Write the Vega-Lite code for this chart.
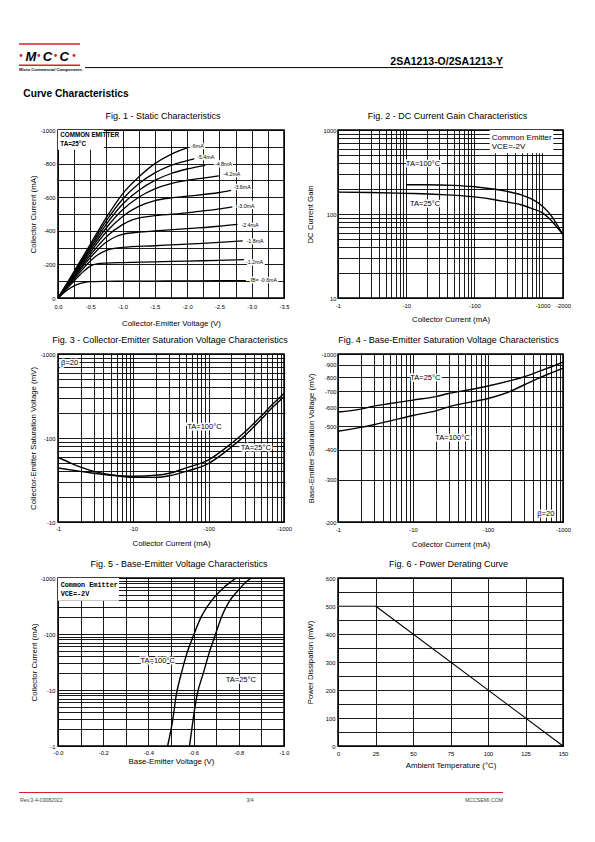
{
  "$schema": "https://vega.github.io/schema/vega-lite/v6.json",
  "background": "white",
  "padding": 0,
  "bounds": "flush",
  "columns": 2,
  "spacing": {"row": 56, "column": 54},
  "config": {
    "font": "Liberation Sans",
    "view": {"stroke": "black", "strokeWidth": 1.5},
    "axis": {"grid": true, "gridColor": "black", "gridOpacity": 1, "gridWidth": 0.9, "domain": false, "ticks": false, "labelFont": "Liberation Sans", "labelFontSize": 5.8, "labelColor": "black", "labelFlush": false, "labelOverlap": false, "labelPadding": 3, "titleFont": "Liberation Sans", "titleFontSize": 7.8, "titleFontWeight": "normal", "titleColor": "black"},
    "title": {"font": "Liberation Sans", "fontSize": 9, "fontWeight": "normal", "color": "black", "offset": 6, "anchor": "middle"},
    "line": {"color": "black", "strokeWidth": 1.3},
    "text": {"font": "Liberation Sans", "color": "black"}
  },
  "datasets": {
    "page": [{"page": 3}],
    "f1": [
      {"s":"0.6","x":0,"y":0},{"s":"0.6","x":0.1,"y":35},{"s":"0.6","x":0.2,"y":62},{"s":"0.6","x":0.3,"y":81},{"s":"0.6","x":0.4,"y":92},{"s":"0.6","x":0.5,"y":97},{"s":"0.6","x":0.75,"y":99},{"s":"0.6","x":1.0,"y":100},{"s":"0.6","x":1.5,"y":101},{"s":"0.6","x":2.0,"y":102},{"s":"0.6","x":2.5,"y":103},{"s":"0.6","x":2.91,"y":104},
      {"s":"1.2","x":0,"y":0},{"s":"1.2","x":0.1,"y":42},{"s":"1.2","x":0.2,"y":82},{"s":"1.2","x":0.3,"y":122},{"s":"1.2","x":0.4,"y":160},{"s":"1.2","x":0.5,"y":190},{"s":"1.2","x":0.6,"y":203},{"s":"1.2","x":0.75,"y":208},{"s":"1.2","x":1.0,"y":211},{"s":"1.2","x":1.5,"y":215},{"s":"1.2","x":2.0,"y":220},{"s":"1.2","x":2.5,"y":224},{"s":"1.2","x":2.88,"y":228},
      {"s":"1.8","x":0,"y":0},{"s":"1.8","x":0.25,"y":112},{"s":"1.8","x":0.5,"y":220},{"s":"1.8","x":0.6,"y":253},{"s":"1.8","x":0.75,"y":284},{"s":"1.8","x":0.9,"y":297},{"s":"1.8","x":1.0,"y":301},{"s":"1.8","x":1.5,"y":311},{"s":"1.8","x":2.0,"y":321},{"s":"1.8","x":2.5,"y":331},{"s":"1.8","x":2.86,"y":340},
      {"s":"2.4","x":0,"y":0},{"s":"2.4","x":0.25,"y":122},{"s":"2.4","x":0.5,"y":240},{"s":"2.4","x":0.75,"y":333},{"s":"2.4","x":0.9,"y":366},{"s":"2.4","x":1.0,"y":379},{"s":"2.4","x":1.25,"y":392},{"s":"2.4","x":1.5,"y":399},{"s":"2.4","x":2.0,"y":413},{"s":"2.4","x":2.5,"y":427},{"s":"2.4","x":2.78,"y":438},
      {"s":"3.0","x":0,"y":0},{"s":"3.0","x":0.25,"y":130},{"s":"3.0","x":0.5,"y":256},{"s":"3.0","x":0.75,"y":365},{"s":"3.0","x":1.0,"y":437},{"s":"3.0","x":1.15,"y":465},{"s":"3.0","x":1.3,"y":480},{"s":"3.0","x":1.5,"y":490},{"s":"3.0","x":2.0,"y":507},{"s":"3.0","x":2.5,"y":530},{"s":"3.0","x":2.7,"y":542},
      {"s":"3.6","x":0,"y":0},{"s":"3.6","x":0.25,"y":137},{"s":"3.6","x":0.5,"y":272},{"s":"3.6","x":0.75,"y":394},{"s":"3.6","x":1.0,"y":485},{"s":"3.6","x":1.25,"y":545},{"s":"3.6","x":1.5,"y":580},{"s":"3.6","x":1.75,"y":596},{"s":"3.6","x":2.0,"y":606},{"s":"3.6","x":2.5,"y":628},{"s":"3.6","x":2.68,"y":640},
      {"s":"4.2","x":0,"y":0},{"s":"4.2","x":0.25,"y":143},{"s":"4.2","x":0.5,"y":285},{"s":"4.2","x":0.75,"y":418},{"s":"4.2","x":1.0,"y":525},{"s":"4.2","x":1.25,"y":600},{"s":"4.2","x":1.5,"y":650},{"s":"4.2","x":1.75,"y":681},{"s":"4.2","x":2.0,"y":700},{"s":"4.2","x":2.25,"y":714},{"s":"4.2","x":2.49,"y":727},
      {"s":"4.8","x":0,"y":0},{"s":"4.8","x":0.25,"y":148},{"s":"4.8","x":0.5,"y":297},{"s":"4.8","x":0.75,"y":440},{"s":"4.8","x":1.0,"y":558},{"s":"4.8","x":1.25,"y":640},{"s":"4.8","x":1.5,"y":700},{"s":"4.8","x":1.75,"y":741},{"s":"4.8","x":2.0,"y":768},{"s":"4.8","x":2.28,"y":790},
      {"s":"5.4","x":0,"y":0},{"s":"5.4","x":0.25,"y":153},{"s":"5.4","x":0.5,"y":308},{"s":"5.4","x":0.75,"y":460},{"s":"5.4","x":1.0,"y":588},{"s":"5.4","x":1.25,"y":680},{"s":"5.4","x":1.5,"y":745},{"s":"5.4","x":1.75,"y":790},{"s":"5.4","x":2.0,"y":818},{"s":"5.4","x":2.11,"y":829},
      {"s":"6","x":0,"y":0},{"s":"6","x":0.25,"y":158},{"s":"6","x":0.5,"y":320},{"s":"6","x":0.75,"y":480},{"s":"6","x":1.0,"y":620},{"s":"6","x":1.25,"y":720},{"s":"6","x":1.5,"y":800},{"s":"6","x":1.75,"y":855},{"s":"6","x":2.0,"y":893}
    ],
    "f1t": [
      {"x":2.06,"y":906,"t":"-6mA"},{"x":2.155,"y":841,"t":"-5.4mA"},{"x":2.43,"y":795,"t":"-4.8mA"},{"x":2.56,"y":741,"t":"-4.2mA"},{"x":2.72,"y":661,"t":"-3.6mA"},{"x":2.78,"y":546,"t":"-3.0mA"},{"x":2.84,"y":436,"t":"-2.4mA"},{"x":2.92,"y":337,"t":"-1.8mA"},{"x":2.91,"y":217,"t":"-1.2mA"},{"x":2.98,"y":110,"t":"IB= -0.6mA"}
    ],
    "f1a": [{"x":0.035,"y":972,"t":"COMMON EMITTER"},{"x":0.035,"y":915,"t":"TA=25°C"}],
    "f1b": [{"x":0,"x2":0.71,"y":882,"y2":1000}],
    "f2": [
      {"s":"100","x":10,"y":223},{"s":"100","x":20,"y":223},{"s":"100","x":50,"y":219},{"s":"100","x":100,"y":211},{"s":"100","x":200,"y":197},{"s":"100","x":300,"y":186},{"s":"100","x":500,"y":168},{"s":"100","x":700,"y":150},{"s":"100","x":1000,"y":124},{"s":"100","x":1300,"y":99},{"s":"100","x":1600,"y":77},{"s":"100","x":2000,"y":57},
      {"s":"25","x":1,"y":182},{"s":"25","x":3,"y":180},{"s":"25","x":10,"y":176},{"s":"25","x":30,"y":171},{"s":"25","x":100,"y":160},{"s":"25","x":200,"y":148},{"s":"25","x":300,"y":139},{"s":"25","x":500,"y":128},{"s":"25","x":700,"y":116},{"s":"25","x":1000,"y":103},{"s":"25","x":1300,"y":86},{"s":"25","x":1600,"y":71},{"s":"25","x":2000,"y":57}
    ],
    "f2a": [{"x":9.9,"y":397,"t":"TA=100°C"},{"x":11.4,"y":132,"t":"TA=25°C"}],
    "f2c": [{"x":180,"y":811,"t":"Common Emitter"},{"x":180,"y":627,"t":"VCE=-2V"}],
    "f2b": [{"x":168,"x2":1440,"y":527,"y2":1000}],
    "f3": [
      {"s":"100","x":1,"y":44},{"s":"100","x":2,"y":40},{"s":"100","x":3,"y":38},{"s":"100","x":5,"y":36},{"s":"100","x":10,"y":35},{"s":"100","x":20,"y":36},{"s":"100","x":30,"y":38},{"s":"100","x":50,"y":44},{"s":"100","x":100,"y":55},{"s":"100","x":200,"y":86},{"s":"100","x":300,"y":117},{"s":"100","x":500,"y":183},{"s":"100","x":700,"y":250},{"s":"100","x":1000,"y":339},
      {"s":"25","x":1,"y":59},{"s":"25","x":1.5,"y":50},{"s":"25","x":2,"y":45},{"s":"25","x":3,"y":40},{"s":"25","x":5,"y":36.5},{"s":"25","x":10,"y":34},{"s":"25","x":20,"y":34},{"s":"25","x":30,"y":35.5},{"s":"25","x":50,"y":40},{"s":"25","x":100,"y":50},{"s":"25","x":200,"y":78},{"s":"25","x":300,"y":106},{"s":"25","x":500,"y":168},{"s":"25","x":700,"y":230},{"s":"25","x":1000,"y":310}
    ],
    "f3a": [{"x":1.1,"y":776,"t":"β=20"},{"x":52,"y":134,"t":"TA=100°C"},{"x":266,"y":75,"t":"TA=25°C"}],
    "f4": [
      {"s":"25","x":1,"y":574},{"s":"25","x":2,"y":590},{"s":"25","x":3,"y":607},{"s":"25","x":5,"y":622},{"s":"25","x":10,"y":643},{"s":"25","x":20,"y":665},{"s":"25","x":30,"y":685},{"s":"25","x":50,"y":705},{"s":"25","x":100,"y":736},{"s":"25","x":200,"y":775},{"s":"25","x":300,"y":802},{"s":"25","x":500,"y":850},{"s":"25","x":700,"y":885},{"s":"25","x":1000,"y":925},
      {"s":"100","x":1,"y":477},{"s":"100","x":2,"y":495},{"s":"100","x":3,"y":508},{"s":"100","x":5,"y":527},{"s":"100","x":10,"y":555},{"s":"100","x":20,"y":580},{"s":"100","x":30,"y":603},{"s":"100","x":50,"y":625},{"s":"100","x":100,"y":653},{"s":"100","x":200,"y":700},{"s":"100","x":300,"y":743},{"s":"100","x":500,"y":800},{"s":"100","x":700,"y":835},{"s":"100","x":1000,"y":873}
    ],
    "f4a": [{"x":9.2,"y":798,"t":"TA=25°C"},{"x":19.8,"y":448,"t":"TA=100°C"},{"x":454,"y":215,"t":"β=20"}],
    "f5": [
      {"s":"100","x":0.485,"y":1},{"s":"100","x":0.508,"y":3},{"s":"100","x":0.523,"y":8},{"s":"100","x":0.546,"y":20},{"s":"100","x":0.571,"y":46},{"s":"100","x":0.598,"y":91},{"s":"100","x":0.633,"y":200},{"s":"100","x":0.672,"y":360},{"s":"100","x":0.72,"y":600},{"s":"100","x":0.772,"y":900},{"s":"100","x":0.79,"y":1000},
      {"s":"25","x":0.582,"y":1},{"s":"25","x":0.598,"y":3},{"s":"25","x":0.615,"y":8},{"s":"25","x":0.643,"y":20},{"s":"25","x":0.669,"y":46},{"s":"25","x":0.694,"y":91},{"s":"25","x":0.723,"y":200},{"s":"25","x":0.754,"y":360},{"s":"25","x":0.797,"y":600},{"s":"25","x":0.84,"y":900},{"s":"25","x":0.855,"y":1000}
    ],
    "f5a": [{"x":0.365,"y":33.6,"t":"TA=100°C"},{"x":0.742,"y":14.8,"t":"TA=25°C"}],
    "f5c": [{"x":0.012,"y":738,"t":"Common Emitter"},{"x":0.012,"y":525,"t":"VCE=-2V"}],
    "f5b": [{"x":0,"x2":0.27,"y":394,"y2":1000}],
    "f6": [{"s":"a","x":0,"y":500},{"s":"a","x":25,"y":500},{"s":"b","x":25,"y":500},{"s":"b","x":150,"y":0}]
  },
  "concat": [
    {
      "width": 226,
      "height": 54,
      "view": {"stroke": null},
      "data": {"name": "page"},
      "layer": [
        {"mark": {"type": "rect", "opacity": 0}, "encoding": {"x": {"datum": 0, "type": "quantitative", "scale": {"domain": [58, 284], "nice": false, "zero": false}, "axis": null}, "x2": {"datum": 595}, "y": {"datum": 0, "type": "quantitative", "scale": {"domain": [20, 74], "nice": false, "zero": false, "reverse": true}, "axis": null}, "y2": {"datum": 842}}},
        {"mark": {"type": "rule", "color": "#d7202a", "strokeWidth": 1.6}, "encoding": {"x": {"datum": 19, "type": "quantitative", "axis": null}, "x2": {"datum": 80}, "y": {"datum": 44, "type": "quantitative", "axis": null}}},
        {"mark": {"type": "rule", "color": "#d7202a", "strokeWidth": 1.6}, "encoding": {"x": {"datum": 19, "type": "quantitative", "axis": null}, "x2": {"datum": 80}, "y": {"datum": 65.3, "type": "quantitative", "axis": null}}},
        {"mark": {"type": "text", "font": "Liberation Sans", "fontWeight": "bold", "fontStyle": "italic", "fontSize": 13, "align": "center", "baseline": "alphabetic"}, "encoding": {"x": {"datum": 31, "type": "quantitative", "axis": null}, "y": {"datum": 60.5, "type": "quantitative", "axis": null}, "text": {"value": "M"}}},
        {"mark": {"type": "text", "font": "Liberation Sans", "fontWeight": "bold", "fontStyle": "italic", "fontSize": 13, "align": "center", "baseline": "alphabetic"}, "encoding": {"x": {"datum": 47.5, "type": "quantitative", "axis": null}, "y": {"datum": 60.5, "type": "quantitative", "axis": null}, "text": {"value": "C"}}},
        {"mark": {"type": "text", "font": "Liberation Sans", "fontWeight": "bold", "fontStyle": "italic", "fontSize": 13, "align": "center", "baseline": "alphabetic"}, "encoding": {"x": {"datum": 64.2, "type": "quantitative", "axis": null}, "y": {"datum": 60.5, "type": "quantitative", "axis": null}, "text": {"value": "C"}}},
        {"mark": {"type": "point", "filled": true, "color": "#d7202a", "size": 8, "opacity": 1}, "encoding": {"x": {"datum": 21, "type": "quantitative", "axis": null}, "y": {"datum": 55.5, "type": "quantitative", "axis": null}}},
        {"mark": {"type": "point", "filled": true, "color": "#d7202a", "size": 8, "opacity": 1}, "encoding": {"x": {"datum": 38.8, "type": "quantitative", "axis": null}, "y": {"datum": 55.5, "type": "quantitative", "axis": null}}},
        {"mark": {"type": "point", "filled": true, "color": "#d7202a", "size": 8, "opacity": 1}, "encoding": {"x": {"datum": 55.5, "type": "quantitative", "axis": null}, "y": {"datum": 55.5, "type": "quantitative", "axis": null}}},
        {"mark": {"type": "point", "filled": true, "color": "#d7202a", "size": 8, "opacity": 1}, "encoding": {"x": {"datum": 74, "type": "quantitative", "axis": null}, "y": {"datum": 55.5, "type": "quantitative", "axis": null}}},
        {"mark": {"type": "text", "font": "Liberation Sans", "fontWeight": "bold", "fontSize": 4.2, "align": "left", "baseline": "alphabetic"}, "encoding": {"x": {"datum": 19, "type": "quantitative", "axis": null}, "y": {"datum": 71.3, "type": "quantitative", "axis": null}, "text": {"value": "Micro Commercial Components"}}},
        {"mark": {"type": "rule", "color": "black", "strokeWidth": 1}, "encoding": {"x": {"datum": 85, "type": "quantitative", "axis": null}, "x2": {"datum": 503}, "y": {"datum": 67.6, "type": "quantitative", "axis": null}}},
        {"mark": {"type": "text", "font": "Liberation Sans", "fontWeight": "bold", "fontSize": 10.5, "align": "right", "baseline": "alphabetic"}, "encoding": {"x": {"datum": 503, "type": "quantitative", "axis": null}, "y": {"datum": 65, "type": "quantitative", "axis": null}, "text": {"value": "2SA1213-O/2SA1213-Y"}}},
        {"mark": {"type": "text", "font": "Liberation Sans", "fontWeight": "bold", "fontSize": 10.2, "align": "left", "baseline": "alphabetic"}, "encoding": {"x": {"datum": 23.3, "type": "quantitative", "axis": null}, "y": {"datum": 97, "type": "quantitative", "axis": null}, "text": {"value": "Curve Characteristics"}}},
        {"mark": {"type": "rule", "color": "#d7202a", "strokeWidth": 1}, "encoding": {"x": {"datum": 19, "type": "quantitative", "axis": null}, "x2": {"datum": 503}, "y": {"datum": 792.5, "type": "quantitative", "axis": null}}},
        {"mark": {"type": "text", "font": "Liberation Sans", "fontSize": 5.2, "color": "#444", "align": "left", "baseline": "alphabetic"}, "encoding": {"x": {"datum": 20, "type": "quantitative", "axis": null}, "y": {"datum": 802, "type": "quantitative", "axis": null}, "text": {"value": "Rev.3-4-03082022"}}},
        {"mark": {"type": "text", "font": "Liberation Sans", "fontSize": 5.2, "color": "#444", "align": "center", "baseline": "alphabetic"}, "encoding": {"x": {"datum": 250, "type": "quantitative", "axis": null}, "y": {"datum": 802, "type": "quantitative", "axis": null}, "text": {"value": "3/4"}}},
        {"mark": {"type": "text", "font": "Liberation Sans", "fontSize": 5.2, "color": "#444", "align": "right", "baseline": "alphabetic"}, "encoding": {"x": {"datum": 503, "type": "quantitative", "axis": null}, "y": {"datum": 802, "type": "quantitative", "axis": null}, "text": {"value": "MCCSEMI.COM"}}}
      ]
    },
    {
      "width": 225,
      "height": 54,
      "view": {"stroke": null},
      "data": {"name": "page"},
      "mark": {"type": "rule", "opacity": 0},
      "encoding": {"y": {"datum": 0, "type": "quantitative", "axis": null}}
    },
    {
      "width": 226, "height": 168,
      "title": {"text": "Fig. 1 - Static Characteristics", "dx": -8},
      "encoding": {
        "x": {"field": "x", "type": "quantitative", "scale": {"domain": [0, 3.5], "nice": false, "zero": false}, "axis": {"title": "Collector-Emitter Voltage (V)", "values": [0,0.25,0.5,0.75,1,1.25,1.5,1.75,2,2.25,2.5,2.75,3,3.25,3.5], "labelExpr": "(datum.value*2)%1==0 ? (datum.value==0 ? '0.0' : '-'+format(datum.value,'.1f')) : ''", "labelPadding": 5, "titlePadding": 11}},
        "y": {"field": "y", "type": "quantitative", "scale": {"domain": [0, 1000], "nice": false, "zero": false}, "axis": {"title": "Collector Current (mA)", "values": [0,100,200,300,400,500,600,700,800,900,1000], "labelExpr": "datum.value%200==0 ? (datum.value==0 ? '0' : '-'+datum.value) : ''", "titlePadding": 3}}
      },
      "layer": [
        {"data": {"name": "f1"}, "mark": {"type": "line", "interpolate": "monotone", "strokeWidth": 1.3}, "encoding": {"detail": {"field": "s"}}},
        {"data": {"name": "f1b"}, "mark": {"type": "rect", "color": "white"}, "encoding": {"x2": {"field": "x2"}, "y2": {"field": "y2"}}},
        {"data": {"name": "f1a"}, "mark": {"type": "text", "fontSize": 6.3, "fontWeight": "bold", "align": "left", "baseline": "middle"}, "encoding": {"text": {"field": "t"}}},
        {"data": {"name": "f1t"}, "mark": {"type": "text", "fontSize": 5.3, "align": "left", "baseline": "middle", "stroke": "white", "strokeWidth": 2.5}, "encoding": {"text": {"field": "t"}}},
        {"data": {"name": "f1t"}, "mark": {"type": "text", "fontSize": 5.3, "align": "left", "baseline": "middle"}, "encoding": {"text": {"field": "t"}}}
      ]
    },
    {
      "width": 225, "height": 168,
      "title": {"text": "Fig. 2 - DC Current Gain Characteristics", "dx": -3},
      "encoding": {
        "x": {"field": "x", "type": "quantitative", "scale": {"type": "log", "domain": [1, 2000], "nice": false, "zero": false}, "axis": {"title": "Collector Current (mA)", "values": [1,2,3,4,5,6,7,8,9,10,20,30,40,50,60,70,80,90,100,200,300,400,500,600,700,800,900,1000,2000], "labelExpr": "indexof([1,10,100,1000,2000], datum.value)>=0 ? '-'+datum.value : ''", "labelPadding": 4, "titlePadding": 8}},
        "y": {"field": "y", "type": "quantitative", "scale": {"type": "log", "domain": [10, 1000], "nice": false, "zero": false}, "axis": {"title": "DC Current Gain", "values": [10,20,30,40,50,60,70,80,90,100,200,300,400,500,600,700,800,900,1000], "labelExpr": "indexof([10,100,1000], datum.value)>=0 ? ''+datum.value : ''", "labelPadding": 2, "titlePadding": 9}}
      },
      "layer": [
        {"data": {"name": "f2"}, "mark": {"type": "line", "interpolate": "monotone", "strokeWidth": 1.4}, "encoding": {"detail": {"field": "s"}}},
        {"data": {"name": "f2b"}, "mark": {"type": "rect", "color": "white"}, "encoding": {"x2": {"field": "x2"}, "y2": {"field": "y2"}}},
        {"data": {"name": "f2c"}, "mark": {"type": "text", "fontSize": 8, "align": "left", "baseline": "middle"}, "encoding": {"text": {"field": "t"}}},
        {"data": {"name": "f2a"}, "mark": {"type": "text", "fontSize": 7.5, "align": "left", "baseline": "middle", "stroke": "white", "strokeWidth": 3}, "encoding": {"text": {"field": "t"}}},
        {"data": {"name": "f2a"}, "mark": {"type": "text", "fontSize": 7.5, "align": "left", "baseline": "middle"}, "encoding": {"text": {"field": "t"}}}
      ]
    },
    {
      "width": 226, "height": 168,
      "title": {"text": "Fig. 3 - Collector-Emitter Saturation Voltage Characteristics", "dx": -1},
      "encoding": {
        "x": {"field": "x", "type": "quantitative", "scale": {"type": "log", "domain": [1, 1000], "nice": false, "zero": false}, "axis": {"title": "Collector Current (mA)", "values": [1,2,3,4,5,6,7,8,9,10,20,30,40,50,60,70,80,90,100,200,300,400,500,600,700,800,900,1000], "labelExpr": "indexof([1,10,100,1000], datum.value)>=0 ? '-'+datum.value : ''", "labelPadding": 3, "titlePadding": 9}},
        "y": {"field": "y", "type": "quantitative", "scale": {"type": "log", "domain": [10, 1000], "nice": false, "zero": false}, "axis": {"title": "Collector-Emitter Saturation Voltage (mV)", "values": [10,20,30,40,50,60,70,80,90,100,200,300,400,500,600,700,800,900,1000], "labelExpr": "indexof([10,100,1000], datum.value)>=0 ? '-'+datum.value : ''", "labelPadding": 3, "titlePadding": 3}}
      },
      "layer": [
        {"data": {"name": "f3"}, "mark": {"type": "line", "interpolate": "monotone", "strokeWidth": 1.4}, "encoding": {"detail": {"field": "s"}}},
        {"data": {"name": "f3a"}, "mark": {"type": "text", "fontSize": 7.5, "align": "left", "baseline": "middle", "stroke": "white", "strokeWidth": 3}, "encoding": {"text": {"field": "t"}}},
        {"data": {"name": "f3a"}, "mark": {"type": "text", "fontSize": 7.5, "align": "left", "baseline": "middle"}, "encoding": {"text": {"field": "t"}}}
      ]
    },
    {
      "width": 225, "height": 168,
      "title": {"text": "Fig. 4 - Base-Emitter Saturation Voltage Characteristics", "dx": -2},
      "encoding": {
        "x": {"field": "x", "type": "quantitative", "scale": {"type": "log", "domain": [1, 1000], "nice": false, "zero": false}, "axis": {"title": "Collector Current (mA)", "values": [1,2,3,4,5,6,7,8,9,10,20,30,40,50,60,70,80,90,100,200,300,400,500,600,700,800,900,1000], "labelExpr": "indexof([1,10,100,1000], datum.value)>=0 ? '-'+datum.value : ''", "labelPadding": 4, "titlePadding": 9}},
        "y": {"field": "y", "type": "quantitative", "scale": {"type": "log", "domain": [200, 1000], "nice": false, "zero": false}, "axis": {"title": "Base-Emitter Saturation Voltage (mV)", "values": [200,300,400,500,600,700,800,900,1000], "labelExpr": "'-'+datum.value", "labelPadding": 2, "titlePadding": 6}}
      },
      "layer": [
        {"data": {"name": "f4"}, "mark": {"type": "line", "interpolate": "monotone", "strokeWidth": 1.4}, "encoding": {"detail": {"field": "s"}}},
        {"data": {"name": "f4a"}, "mark": {"type": "text", "fontSize": 7.5, "align": "left", "baseline": "middle", "stroke": "white", "strokeWidth": 3}, "encoding": {"text": {"field": "t"}}},
        {"data": {"name": "f4a"}, "mark": {"type": "text", "fontSize": 7.5, "align": "left", "baseline": "middle"}, "encoding": {"text": {"field": "t"}}}
      ]
    },
    {
      "width": 226, "height": 168,
      "title": {"text": "Fig. 5 - Base-Emitter Voltage Characteristics", "dx": 8},
      "encoding": {
        "x": {"field": "x", "type": "quantitative", "scale": {"domain": [0, 1], "nice": false, "zero": false}, "axis": {"title": "Base-Emitter Voltage (V)", "values": [0,0.1,0.2,0.3,0.4,0.5,0.6,0.7,0.8,0.9,1], "labelExpr": "round(datum.value*10)%2==0 ? '-'+format(datum.value,'.1f') : ''", "labelPadding": 3, "titlePadding": 3}},
        "y": {"field": "y", "type": "quantitative", "scale": {"type": "log", "domain": [1, 1000], "nice": false, "zero": false}, "axis": {"title": "Collector Current (mA)", "values": [1,2,3,4,5,6,7,8,9,10,20,30,40,50,60,70,80,90,100,200,300,400,500,600,700,800,900,1000], "labelExpr": "indexof([1,10,100,1000], datum.value)>=0 ? '-'+datum.value : ''", "labelPadding": 3, "titlePadding": 2}}
      },
      "layer": [
        {"data": {"name": "f5"}, "mark": {"type": "line", "interpolate": "monotone", "strokeWidth": 1.4}, "encoding": {"detail": {"field": "s"}, "order": {"field": "y"}}},
        {"data": {"name": "f5b"}, "mark": {"type": "rect", "color": "white"}, "encoding": {"x2": {"field": "x2"}, "y2": {"field": "y2"}}},
        {"data": {"name": "f5c"}, "mark": {"type": "text", "font": "Liberation Mono", "fontWeight": "bold", "fontSize": 6.8, "align": "left", "baseline": "middle"}, "encoding": {"text": {"field": "t"}}},
        {"data": {"name": "f5a"}, "mark": {"type": "text", "fontSize": 7.5, "align": "left", "baseline": "middle", "stroke": "white", "strokeWidth": 3}, "encoding": {"text": {"field": "t"}}},
        {"data": {"name": "f5a"}, "mark": {"type": "text", "fontSize": 7.5, "align": "left", "baseline": "middle"}, "encoding": {"text": {"field": "t"}}}
      ]
    },
    {
      "width": 225, "height": 168,
      "title": {"text": "Fig. 6 - Power Derating Curve", "dx": -2},
      "encoding": {
        "x": {"field": "x", "type": "quantitative", "scale": {"domain": [0, 150], "nice": false, "zero": false}, "axis": {"title": "Ambient Temperature (°C)", "values": [0,25,50,75,100,125,150], "labelPadding": 4, "titlePadding": 6}},
        "y": {"field": "y", "type": "quantitative", "scale": {"domain": [0, 600], "nice": false, "zero": false}, "axis": {"title": "Power Dissipation  (mW)", "values": [0,50,100,150,200,250,300,350,400,450,500,550,600], "labelExpr": "datum.value%100==0 ? ''+datum.value : ''", "labelPadding": 3, "titlePadding": 11}}
      },
      "layer": [
        {"data": {"name": "f6"}, "mark": {"type": "line", "strokeWidth": 1.1}, "encoding": {"detail": {"field": "s"}, "color": {"field": "s", "type": "nominal", "scale": {"domain": ["a", "b"], "range": ["#777777", "black"]}, "legend": null}}}
      ]
    }
  ]
}
